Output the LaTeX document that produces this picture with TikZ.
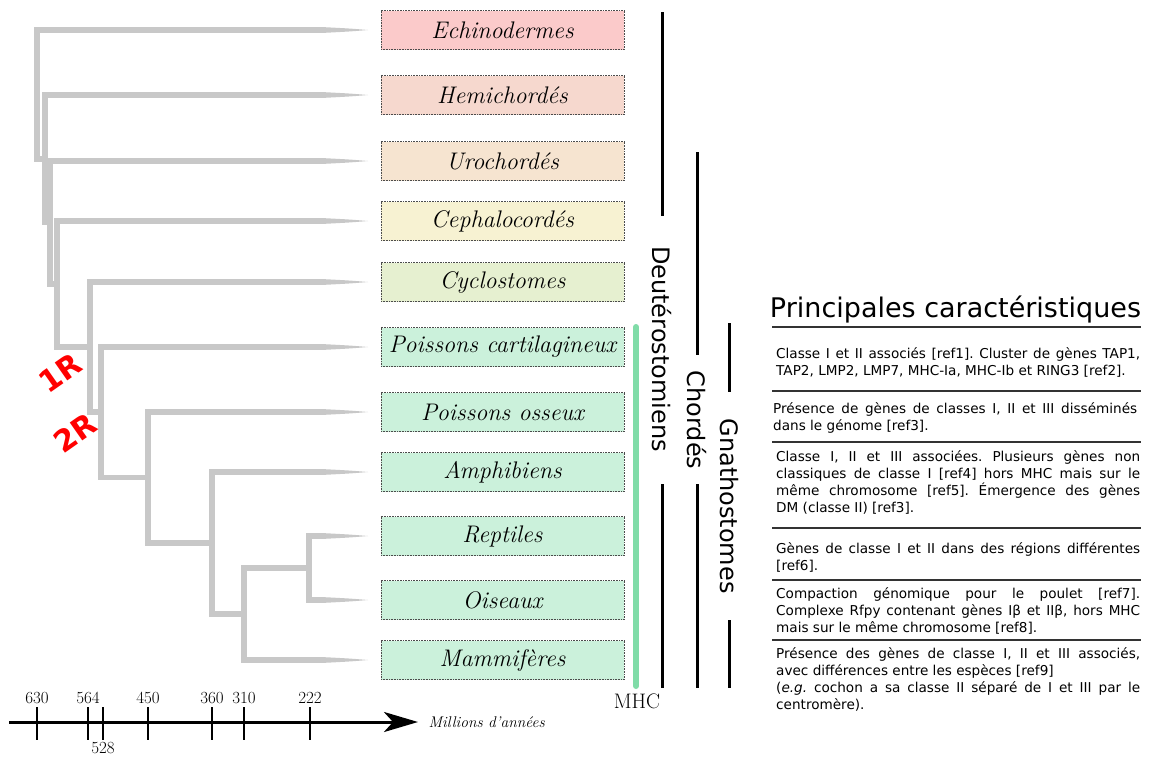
\documentclass[tikz,border=0pt]{standalone}
\usepackage{fontspec}
\newfontfamily\dejavu{DejaVu Sans}
\usetikzlibrary{arrows.meta}
\frenchspacing

\definecolor{cEchi}{RGB}{251,202,202}
\definecolor{cHemi}{RGB}{246,216,206}
\definecolor{cUro}{RGB}{246,228,208}
\definecolor{cCeph}{RGB}{247,242,210}
\definecolor{cCyclo}{RGB}{230,240,208}
\definecolor{cGnat}{RGB}{203,241,219}
\definecolor{arbre}{RGB}{200,200,200}
\definecolor{vertMHC}{RGB}{128,220,168}
% branche terminale effilee : x de depart, y
\newcommand{\feuille}[2]{%
  \fill[arbre] (#1,{#2-2.8}) -- (325,{#2-2.8}) .. controls (350,{#2-1.5}) .. (368,#2)
    .. controls (350,{#2+1.5}) .. (325,{#2+2.8}) -- (#1,{#2+2.8}) -- cycle;
}
% noeud interne : x, y haut, y bas, x du parent
\newcommand{\clade}[4]{%
  \fill[arbre] ({#1-2.8},{#2-2.8}) rectangle ({#1+2.8},{#3+2.8});
  \fill[arbre] (#4,{(#2+#3)/2-2.8}) rectangle (#1,{(#2+#3)/2+2.8});
}

\begin{document}
\begin{tikzpicture}[x=1pt,y=-1pt,
  taxon/.style={draw=black!70,densely dotted,line width=0.6pt,minimum width=243pt,
    minimum height=39pt,inner sep=0pt,font=\fontsize{24}{24}\selectfont\itshape},
  groupe/.style={line width=3pt},
  nomgroupe/.style={rotate=-90,font=\dejavu\fontsize{24}{24}\selectfont},
  regle/.style={black!80,line width=1.3pt},
  caract/.style={anchor=north west,inner sep=0pt,text width=364pt,align=justify,
    font=\dejavu\fontsize{13.6}{17}\selectfont},
  duplic/.style={red,rotate=35,inner sep=0pt,font=\dejavu\bfseries\fontsize{30}{30}\selectfont}]
  \useasboundingbox (0,0) rectangle (1151,756);
  % --- Arbre ---
  \clade{37}{30}{158.75}{37}
  \clade{45}{95}{222.5}{37}
  \clade{50}{161}{284}{45}
  \clade{57}{221}{347.1}{50}
  \clade{90}{282}{412.25}{57}
  \clade{101}{347}{477.5}{90}
  \clade{148}{412}{543}{101}
  \clade{212}{472}{614}{148}
  \clade{244}{568}{660}{212}
  \clade{309}{536}{600}{244}
  \feuille{37}{30} \feuille{45}{95} \feuille{50}{161} \feuille{57}{221}
  \feuille{90}{282} \feuille{101}{347} \feuille{148}{412} \feuille{212}{472}
  \feuille{309}{536} \feuille{309}{600} \feuille{244}{660}
  \node[duplic] (unR) at (60,373) {1R};
  \node[duplic] (deuxR) at (75,433) {2R};
  % --- Taxons ---
  \foreach \y/\nom/\coul/\lab in {30/echi/cEchi/Echinodermes, 95/hemi/cHemi/Hemichordés,
      161/uro/cUro/Urochordés, 221/ceph/cCeph/Cephalocordés, 282/cyclo/cCyclo/Cyclostomes,
      347/cart/cGnat/Poissons cartilagineux, 412/oss/cGnat/Poissons osseux,
      472/amph/cGnat/Amphibiens, 536/rept/cGnat/Reptiles, 600/ois/cGnat/Oiseaux,
      660/mamm/cGnat/Mammifères}
    \node[taxon,fill=\coul] (\nom) at (502.5,\y) {\lab};
  % --- Groupes ---
  \draw[vertMHC,line width=6pt,line cap=round] (636,327) -- (636,686);
  \node[font=\fontsize{21}{21}\selectfont,anchor=base] (mhc) at (637,708) {MHC};
  \foreach \x/\ya/\yb/\yc/\yd/\yt/\lab in {662/12/216/484/688/349/Deutérostomiens,
      697/152/355/484/688/420/Chordés, 729/323/392/620/688/506/Gnathostomes} {
    \draw[groupe] (\x,\ya) -- (\x,\yb);
    \draw[groupe] (\x,\yc) -- (\x,\yd);
    \node[nomgroupe] at (\x,\yt) {\lab};
  }
  % --- Axe du temps ---
  \draw[line width=3pt,-{Stealth[length=34pt,width=20pt,inset=9pt]}] (9,722) -- (418,722);
  \foreach \x/\an in {37/630,88/564,148/450,212/360,244/310,310/222} {
    \draw[line width=2pt] (\x,707) -- (\x,740);
    \node[font=\fontsize{17}{17}\selectfont,anchor=base] at (\x,703) {\an};
  }
  \draw[line width=2pt] (103,707) -- (103,740);
  \node[font=\fontsize{17}{17}\selectfont,anchor=base] at (103,753) {528};
  \node[font=\fontsize{15.5}{15.5}\selectfont\itshape,anchor=base west] (unite) at (425,727) {Millions d'années};
  % --- Caracteristiques ---
  \node[font=\dejavu\fontsize{27}{27}\selectfont,anchor=base] (titre) at (955.5,317) {Principales caractéristiques};
  \foreach \y in {327,391,442,528,580,640}
    \draw[regle] (772,\y) -- (1141,\y);
  \node[caract] (c1) at (776,347) {Classe I et II associés [ref1]. Cluster de gènes TAP1,\linebreak{}
    TAP2, LMP2, LMP7, MHC-Ia, MHC-Ib et RING3 [ref2].};
  \node[caract] (c2) at (773,402) {Présence de gènes de classes I, II et III disséminés\linebreak{}
    dans le génome [ref3].};
  \node[caract] (c3) at (776,450) {Classe I, II et III associées. Plusieurs gènes non\linebreak{}
    classiques de classe I [ref4] hors MHC mais sur le\linebreak{}
    même chromosome [ref5]. Émergence des gènes\linebreak{} DM (classe II) [ref3].};
  \node[caract] (c4) at (776,542) {Gènes de classe I et II dans des régions différentes\linebreak{} [ref6].};
  \node[caract] (c5) at (776,587) {Compaction génomique pour le poulet [ref7].\linebreak{}
    Complexe Rfpy contenant gènes Iβ et IIβ, hors MHC\linebreak{}
    mais sur le même chromosome [ref8].};
  \node[caract] (c6) at (776,647) {Présence des gènes de classe I, II et III associés,\linebreak{}
    avec différences entre les espèces [ref9]\\
    (\textit{e.g.} cochon a sa classe II séparé de I et III par le\linebreak{}
    centromère).};
\end{tikzpicture}
\end{document}
